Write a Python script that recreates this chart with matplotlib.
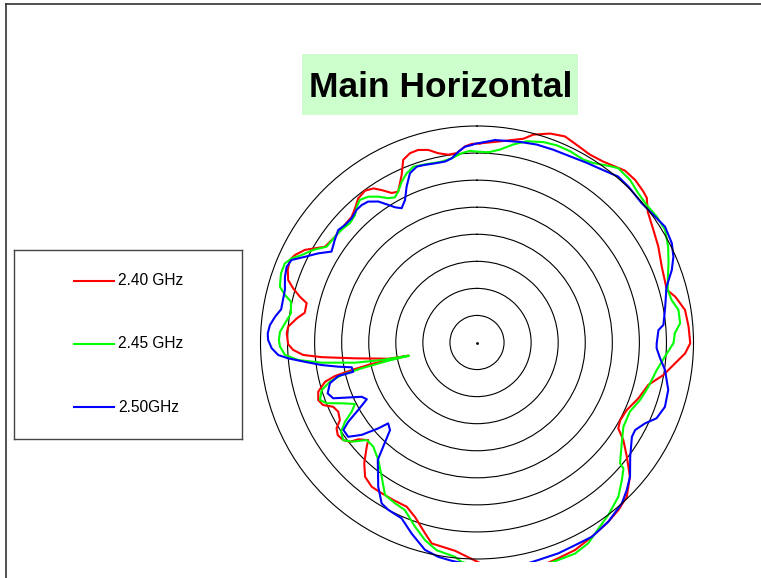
import numpy as np
import matplotlib.pyplot as plt
from matplotlib.patches import Rectangle
from matplotlib.lines import Line2D

plt.rcParams['font.family'] = ['Liberation Sans', 'DejaVu Sans']

# radiation pattern, azimuth in degrees (clockwise from top), level in dB
red_deg = [0.9, 6.5, 12.8, 15.2, 19.3, 23.1, 26.7, 31.0, 34.9, 40.7, 44.2, 47.8, 49.6, 52.5,
           57.5, 62.1, 67.7, 74.5, 77.0, 81.1, 85.7, 90.2, 93.0, 96.0, 99.9, 103.9, 109.1,
           114.3, 118.5, 121.3, 123.7, 127.3, 131.3, 135.8, 139.8, 143.8, 149.4, 154.7, 159.4,
           165, 172, 178, 186.0, 192.7, 195.2, 199.6, 203.2, 208.0, 212.3, 216.1, 219.8, 223.0,
           226.6, 228.1, 230.8, 232.0, 233.9, 236.4, 238.6, 240.5, 243.5, 245.9, 247.9, 250.1,
           252.8, 255.5, 256.7, 257.6, 258.5, 258.9, 259.1, 259.6, 262.6, 264.6, 265.9, 267.7,
           269.5, 272.8, 274.8, 277.6, 279.8, 283.0, 284.5, 286.4, 288.3, 291.0, 293.8, 295.7,
           298.3, 302.2, 306.7, 310.9, 315.1, 317.7, 320.5, 323.6, 326.1, 328.0, 330.3, 332.4,
           335.8, 338.0, 340.5, 343.0, 345.8, 348.4, 351.3, 353.9, 356.5, 358.5, 360.9]
red_db = [-3.2, -2.6, -1.4, -0.2, 0.9, 1.4, 0.9, 0.5, 0.75, 1.9, 1.9, 1.5, 1.2, -0.25,
          -1.35, -2.1, -3.1, -3.6, -2.4, -1.1, -0.8, -0.6, -1.5, -3.2, -5.05, -7.4, -8.45,
          -9.65, -9.9, -9.45, -7.5, -5.2, -2.4, -0.3, 0.5, 1.05, 1.7, 2.4, 2.6,
          3.05, 2.3, 1.2, -1.3, -1.95, -3.45, -5.8, -7.0, -7.05, -7.05, -7.0, -7.7, -9.45,
          -11.95, -13.0, -11.7, -10.2, -9.4, -9.1, -9.6, -10.9, -11.35, -10.9, -9.3, -8.8,
          -9.3, -11.0, -13.0, -16.3, -20.1, -23.9, -27.1, -23.4, -17.3, -11.2, -7.8, -6.0,
          -5.1, -4.8, -5.0, -6.4, -7.7, -7.7, -6.2, -4.6, -3.25, -2.55, -2.2, -2.7,
          -3.9, -6.8, -7.3, -7.3, -7.2, -6.5, -5.5, -5.15, -5.7, -6.8, -8.2, -8.55,
          -6.05, -3.6, -2.9, -2.8, -3.3, -4.3, -4.9, -4.8, -3.7, -3.3, -3.2]

green_deg = [3.4, 6.8, 10.4, 13.9, 18.3, 22.0, 25.9, 30.2, 32.9, 37.0, 39.0, 43.3, 47.2, 51.0,
             55.0, 59.1, 63.4, 67.5, 71.0, 74.6, 77.7, 80.8, 84.6, 87.3, 90.2, 94.3, 98.7,
             104.5, 109.4, 114.3, 119.9, 124.9, 130.2, 130.7, 133.5, 137.5, 142.7, 146.3, 151.0,
             155.1, 159.5, 165, 172, 178, 184.0, 185.9, 191.0, 194.75, 198.6, 203.3, 207.0,
             211.1, 215.4, 220.0, 224.9, 228.5, 231.6, 233.9, 236.7, 239.0, 241.1, 243.25, 245.8,
             248.0, 249.9, 253.0, 255.1, 256.5, 257.4, 258.4, 259.0, 259.6, 260.6, 262.6, 264.4,
             266.3, 268.8, 270.7, 273.1, 275.7, 278.9, 282.4, 283.9, 285.8, 289.4, 292.4, 294.4,
             296.5, 299.5, 302.5, 307.5, 310.5, 313.2, 316.3, 318.5, 320.6, 323.3, 325.9, 328.4,
             330.5, 332.4, 334.9, 337.4, 340.1, 342.7, 345.8, 349.0, 352.2, 355.4, 357.9, 359.4,
             363.4]
green_db = [-4.8, -4.1, -2.8, -1.7, -1.0, -0.7, -0.7, -0.9, -0.5, 0.8, 1.45, 1.25, 0.6, 0.35,
            0.55, 0.5, -0.5, -1.7, -2.7, -3.45, -3.2, -2.3, -2.3, -3.4, -3.7, -5.2, -6.4,
            -7.3, -8.05, -9.0, -8.8, -7.4, -5.4, -4.3, -3.1, -1.35, 0.05, 0.9, 2.4,
            3.0, 2.9, 3.05, 2.3, 1.6, 0.65, -0.2, -0.9, -2.25, -4.1, -6.3, -6.65,
            -7.1, -9.6, -11.65, -12.85, -12.8, -10.5, -9.4, -9.95, -11.55, -13.55, -14.75, -12.6,
            -10.05, -9.1, -10.0, -11.9, -14.3, -18.15, -23.3, -27.2, -22.1, -17.15, -11.05, -6.8,
            -4.45, -3.6, -3.4, -3.55, -4.35, -5.2, -4.8, -3.45, -2.15, -1.6, -1.6, -2.4,
            -3.8, -5.25, -7.05, -7.3, -7.5, -7.8, -7.4, -6.5, -5.9, -6.4, -7.45, -8.7,
            -9.2, -8.55, -7.2, -6.15, -5.45, -5.65, -5.85, -5.95, -5.65, -4.9, -4.55, -4.7,
            -4.8]

blue_deg = [5.1, 12.1, 16.8, 21.6, 26.5, 31.4, 34.3, 40.4, 44.2, 49.8, 54.75, 58.4, 63.0, 66.4,
            69.6, 73.6, 79.2, 84.6, 86.1, 90.3, 91.8, 94.9, 98.3, 103.9, 108.9, 112.9, 115.7,
            118.95, 121.3, 126.7, 131.25, 134.6, 138.0, 143.8, 149.4, 154.2, 158.9, 164.3,
            170, 176, 181, 186.6, 190.2, 194.1, 198.9, 203.2, 207.9, 210.65, 214.4, 220.2, 222.0,
            224.8, 227.7, 229.0, 231.3, 233.8, 236.8, 238.4, 240.4, 242.75, 244.8, 246.4, 248.8,
            251.2, 254.5, 256.4, 256.7, 258.8, 260.1, 261.75, 263.6, 265.2, 266.4, 268.4, 270.7,
            272.5, 274.8, 277.3, 279.6, 285.3, 288.9, 291.7, 294.0, 296.5, 299.3, 302.0, 305.8,
            309.0, 311.7, 314.7, 317.8, 320.0, 322.3, 325.0, 327.2, 328.8, 330.7, 333.2, 335.7,
            338.4, 341.1, 343.7, 346.8, 350.0, 352.2, 354.4, 356.5, 358.5, 359.4, 365.1]
blue_db = [-2.45, -2.1, -1.8, -1.7, -1.55, -1.1, -0.8, 0.25, 0.15, -0.15, 0.3, 0.8, 0.4, -0.4,
           -1.6, -3.5, -4.6, -5.4, -6.4, -6.8, -6.8, -6.05, -4.9, -3.6, -3.3, -4.0, -5.55,
           -6.6, -6.5, -4.7, -2.4, -1.15, 0.0, 1.05, 1.7, 1.6, 1.75, 1.75,
           2.1, 1.55, 1.2, 0.6, 0.25, -0.5, -2.7, -4.65, -5.0, -5.45, -7.7, -11.6, -14.1,
           -17.2, -17.8, -15.8, -12.7, -10.5, -10.5, -12.1, -14.75, -17.1, -16.45, -14.7, -11.5,
           -10.85, -11.8, -13.6, -16.5, -16.4, -14.0, -11.0, -8.0, -5.0, -3.2, -2.05, -1.4,
           -1.3, -1.6, -2.4, -3.3, -3.2, -2.5, -2.15, -2.5, -4.5, -6.35, -8.3, -7.6,
           -7.0, -7.35, -7.4, -6.9, -6.85, -7.1, -8.2, -9.75, -10.8, -11.55, -10.5, -8.4,
           -6.35, -5.65, -5.8, -6.0, -6.05, -5.65, -4.6, -3.75, -3.5, -3.3, -2.45]

labels = ['2.40 GHz', '2.45 GHz', '2.50GHz']
colors = ['#ff0000', '#00ff00', '#0000ff']
rings = [-35, -30, -25, -20, -15, -10, -5]

W, H = 761, 578
fig = plt.figure(figsize=(W / 100, H / 100), dpi=100)

# outer frame (top and left edges only)
fig.add_artist(Line2D([5.5 / W, 5.5 / W], [0, 1 - 3.5 / H], color='#333333', lw=1.2))
fig.add_artist(Line2D([5.5 / W, 1], [1 - 3.5 / H, 1 - 3.5 / H], color='#333333', lw=1.2))

# title in a light green box
fig.add_artist(Rectangle((302 / W, 1 - 115 / H), 276 / W, 61 / H,
                         facecolor='#ccffcc', edgecolor='none'))
fig.text(441 / W, 1 - 97 / H, 'Main Horizontal', ha='center', va='baseline',
         fontsize=25.5, fontweight='bold', color='black')

# polar chart
ax = fig.add_axes([260.5 / W, 19 / H, 433 / W, 433 / H], projection='polar')
ax.set_theta_zero_location('N')
ax.set_theta_direction(-1)
ax.set_rlim(-40, 0)
ax.set_rgrids(rings, labels=[''] * len(rings))
ax.set_xticks([])
ax.tick_params(axis='both', length=0)
ax.xaxis.grid(False)
ax.yaxis.grid(True, color='black', lw=0.8, ls='-')
ax.spines['polar'].set_color('black')
ax.spines['polar'].set_linewidth(0.8)

# the traces run past the outer ring and are cut by the plot area
clip = Rectangle((0, 16.3 / H), 1, 1, transform=fig.transFigure)
series = [(red_deg, red_db), (green_deg, green_db), (blue_deg, blue_db)]
for (deg, db), c in zip(series, colors):
    line, = ax.plot(np.deg2rad(deg), db, color=c, lw=1.5)
    line.set_clip_path(clip)
ax.plot([0], [-40], 'k.', ms=2)

# legend panel
lax = fig.add_axes([14 / W, 1 - 439 / H, 228 / W, 189 / H])
lax.set_xlim(0, 228)
lax.set_ylim(189, 0)
lax.set_xticks([])
lax.set_yticks([])
for s in lax.spines.values():
    s.set_color('#444444')
    s.set_linewidth(1.0)
for i, (lab, c) in enumerate(zip(labels, colors)):
    y = 30.7 + i * 63.2
    lax.plot([60, 100], [y, y], color=c, lw=1.5)
    lax.text(104, y, lab, ha='left', va='center', fontsize=11.2, color='black')

fig.savefig('out.png', dpi=100)
